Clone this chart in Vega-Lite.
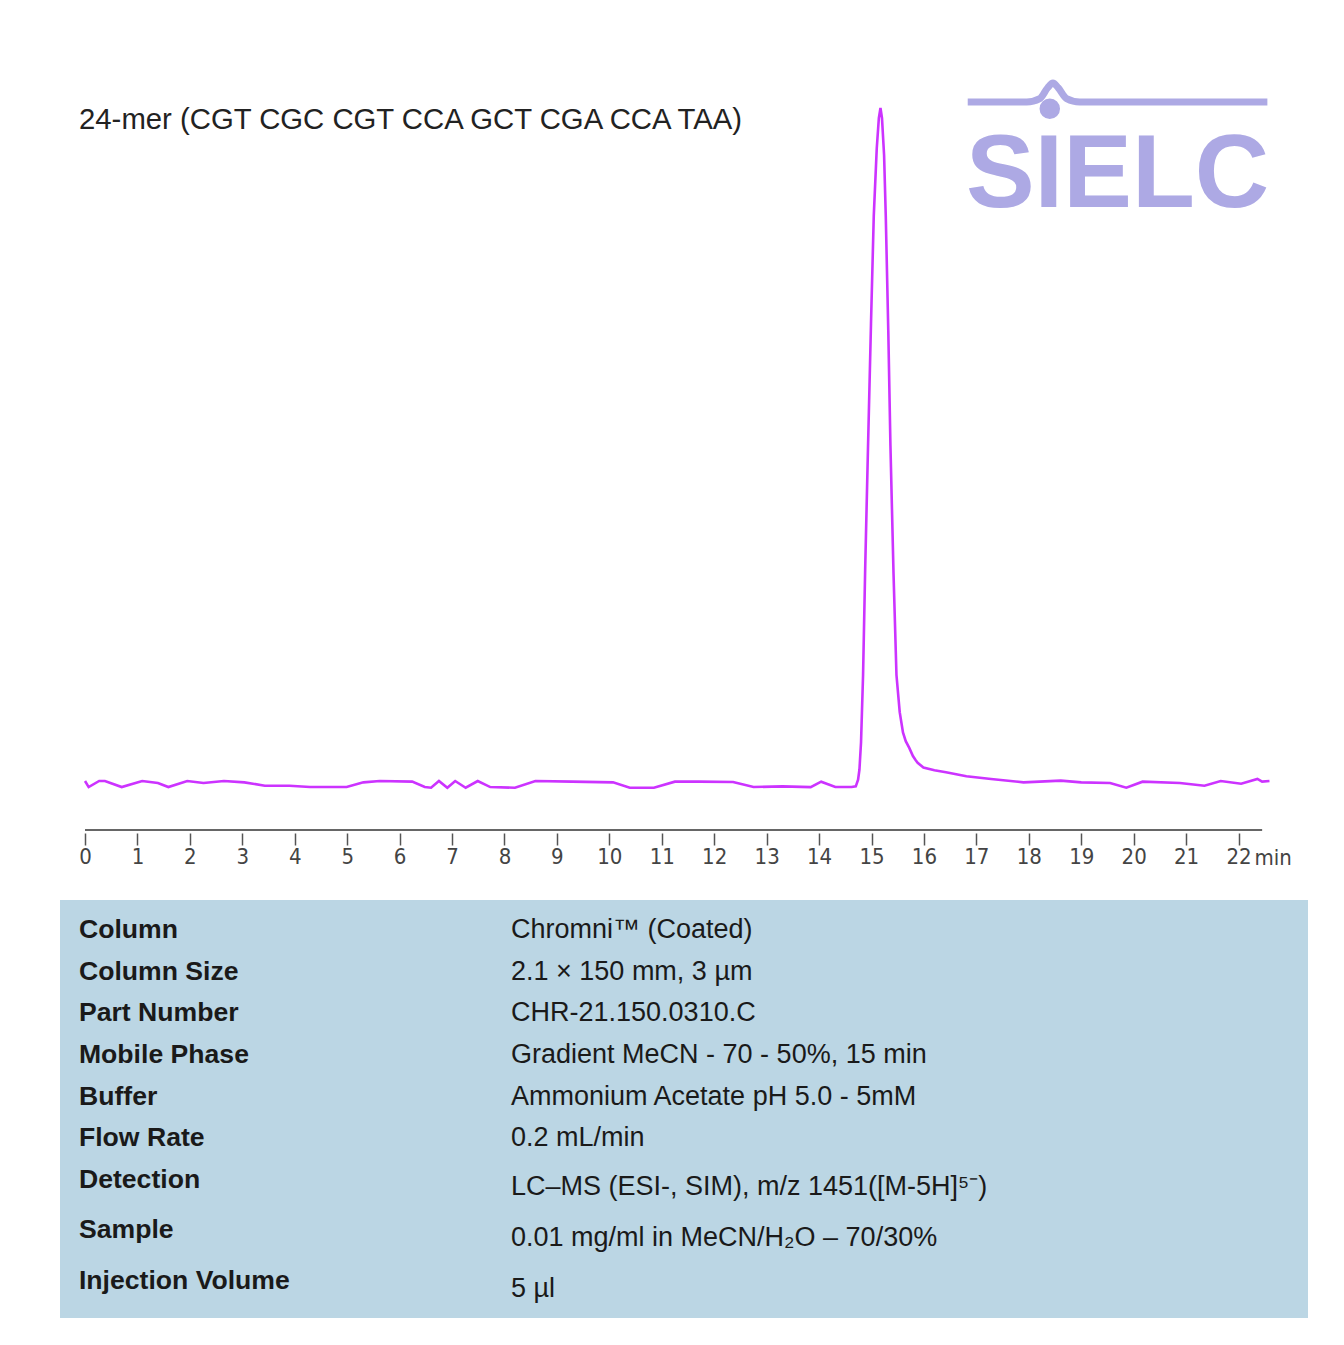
{
  "$schema": "https://vega.github.io/schema/vega-lite/v6.json",
  "background": "white",
  "padding": {"left": 60, "top": 60, "right": 0, "bottom": 0},
  "spacing": 32,
  "config": {"font": "Liberation Sans", "view": {"stroke": null}},
  "datasets": {
    "trace": [
      {"t": 0.00, "v": 0.3}, {"t": 0.07, "v": -0.6}, {"t": 0.27, "v": 0.3}, {"t": 0.38, "v": 0.3},
      {"t": 0.70, "v": -0.6}, {"t": 1.09, "v": 0.3}, {"t": 1.39, "v": 0.0}, {"t": 1.59, "v": -0.6},
      {"t": 1.95, "v": 0.3}, {"t": 2.26, "v": 0.0}, {"t": 2.65, "v": 0.3}, {"t": 3.04, "v": 0.1},
      {"t": 3.43, "v": -0.4}, {"t": 3.90, "v": -0.4}, {"t": 4.29, "v": -0.6}, {"t": 4.99, "v": -0.6},
      {"t": 5.31, "v": 0.1}, {"t": 5.62, "v": 0.3}, {"t": 6.24, "v": 0.2}, {"t": 6.48, "v": -0.6},
      {"t": 6.60, "v": -0.7}, {"t": 6.75, "v": 0.3}, {"t": 6.91, "v": -0.7}, {"t": 7.06, "v": 0.3},
      {"t": 7.26, "v": -0.7}, {"t": 7.49, "v": 0.3}, {"t": 7.73, "v": -0.6}, {"t": 8.20, "v": -0.7},
      {"t": 8.59, "v": 0.3}, {"t": 9.29, "v": 0.2}, {"t": 10.07, "v": 0.1}, {"t": 10.39, "v": -0.7},
      {"t": 10.85, "v": -0.7}, {"t": 11.25, "v": 0.2}, {"t": 11.71, "v": 0.2}, {"t": 12.36, "v": 0.15},
      {"t": 12.75, "v": -0.6}, {"t": 13.30, "v": -0.5}, {"t": 13.84, "v": -0.6}, {"t": 14.04, "v": 0.2},
      {"t": 14.31, "v": -0.6}, {"t": 14.62, "v": -0.6}, {"t": 14.70, "v": -0.5}, {"t": 14.744, "v": 0.5},
      {"t": 14.77, "v": 2}, {"t": 14.80, "v": 6}, {"t": 14.839, "v": 16}, {"t": 14.88, "v": 32},
      {"t": 14.934, "v": 50}, {"t": 14.99, "v": 68}, {"t": 15.043, "v": 84}, {"t": 15.10, "v": 94},
      {"t": 15.14, "v": 98.5}, {"t": 15.171, "v": 100}, {"t": 15.20, "v": 98.5}, {"t": 15.24, "v": 93},
      {"t": 15.272, "v": 84}, {"t": 15.32, "v": 67}, {"t": 15.361, "v": 50}, {"t": 15.42, "v": 31},
      {"t": 15.476, "v": 16}, {"t": 15.538, "v": 10.5}, {"t": 15.60, "v": 7.5}, {"t": 15.653, "v": 6.2},
      {"t": 15.72, "v": 5.2}, {"t": 15.79, "v": 4.0}, {"t": 15.84, "v": 3.4}, {"t": 15.88, "v": 3.0},
      {"t": 15.99, "v": 2.3}, {"t": 16.20, "v": 1.9}, {"t": 16.42, "v": 1.6}, {"t": 16.81, "v": 1.0},
      {"t": 17.28, "v": 0.6}, {"t": 17.90, "v": 0.1}, {"t": 18.61, "v": 0.35}, {"t": 19.00, "v": 0.1},
      {"t": 19.55, "v": 0.0}, {"t": 19.86, "v": -0.7}, {"t": 20.17, "v": 0.2}, {"t": 20.88, "v": 0.0},
      {"t": 21.35, "v": -0.4}, {"t": 21.66, "v": 0.3}, {"t": 22.05, "v": -0.1}, {"t": 22.36, "v": 0.6},
      {"t": 22.45, "v": 0.2}, {"t": 22.59, "v": 0.3}
    ],
    "wave": [
      {"t": 16.835, "v": 100.9}, {"t": 17.96, "v": 100.9}, {"t": 18.21, "v": 101.4},
      {"t": 18.36, "v": 103.0}, {"t": 18.46, "v": 103.7}, {"t": 18.56, "v": 103.0},
      {"t": 18.72, "v": 101.4}, {"t": 18.97, "v": 100.9}, {"t": 22.55, "v": 100.9}
    ],
    "table": [
      {"row": 0, "label": "Column", "value": "Chromni™ (Coated)"},
      {"row": 1, "label": "Column Size", "value": "2.1 × 150 mm, 3 µm"},
      {"row": 2, "label": "Part Number", "value": "CHR-21.150.0310.C"},
      {"row": 3, "label": "Mobile Phase", "value": "Gradient MeCN - 70 - 50%, 15 min"},
      {"row": 4, "label": "Buffer", "value": "Ammonium Acetate pH 5.0  - 5mM"},
      {"row": 5, "label": "Flow Rate", "value": "0.2 mL/min"},
      {"row": 6, "label": "Detection", "value": "LC–MS (ESI-, SIM), m/z 1451([M-5H]⁵⁻)"},
      {"row": 7, "label": "Sample", "value": "0.01 mg/ml in MeCN/H₂O – 70/30%"},
      {"row": 8, "label": "Injection Volume", "value": "5 µl"}
    ]
  },
  "vconcat": [
    {
      "width": 1210,
      "height": 770,
      "resolve": {"axis": {"x": "independent", "y": "independent"}},
      "layer": [
        {
          "data": {"name": "wave"},
          "mark": {"type": "line", "color": "#ADA9E4", "strokeWidth": 7, "interpolate": "monotone"},
          "encoding": {
            "x": {"field": "t", "type": "quantitative", "axis": null},
            "y": {"field": "v", "type": "quantitative", "axis": null}
          }
        },
        {
          "data": {"values": [{"k": 1}]},
          "mark": {"type": "point", "filled": true, "color": "#ADA9E4", "opacity": 1, "size": 420},
          "encoding": {"x": {"datum": 18.40, "axis": null}, "y": {"datum": 99.9, "axis": null}}
        },
        {
          "data": {"values": [{"k": 1}]},
          "mark": {"type": "text", "text": "SIELC", "font": "Liberation Sans", "fontWeight": "bold", "fontSize": 103, "color": "#ADA9E4", "align": "left", "baseline": "alphabetic"},
          "encoding": {"x": {"datum": 16.80, "axis": null}, "y": {"datum": 85.3, "axis": null}}
        },
        {
          "data": {"values": [{"k": 1}]},
          "mark": {"type": "text", "text": "24-mer (CGT CGC CGT CCA GCT CGA CCA TAA)", "fontSize": 29.3, "align": "left", "baseline": "middle", "color": "#222222"},
          "encoding": {"x": {"datum": -0.114, "axis": null}, "y": {"datum": 98.2, "axis": null}}
        },
        {
          "data": {"values": [{"k": 1}]},
          "mark": {"type": "rule", "color": "#666666", "strokeWidth": 2},
          "encoding": {"x": {"datum": 0, "axis": null}, "x2": {"datum": 22.45}, "y": {"datum": -6.96, "axis": null}}
        },
        {
          "data": {"name": "trace"},
          "mark": {"type": "line", "color": "#CC33FF", "strokeWidth": 2.6},
          "encoding": {
            "x": {
              "field": "t", "type": "quantitative",
              "scale": {"domain": [-0.477, 22.6], "nice": false, "zero": false},
              "axis": {
                "values": [0,1,2,3,4,5,6,7,8,9,10,11,12,13,14,15,16,17,18,19,20,21,22],
                "domain": false, "grid": false, "offset": 3,
                "tickSize": 12, "tickColor": "#555555", "tickWidth": 1.5,
                "labelFont": "DejaVu Sans Condensed, Liberation Sans, sans-serif", "labelFontSize": 22, "labelColor": "#444444", "labelPadding": 1,
                "title": "min", "titleX": 1194, "titleY": 24, "titleAlign": "left", "titleBaseline": "middle", "titleAngle": 0,
                "titleFont": "DejaVu Sans Condensed, Liberation Sans, sans-serif", "titleFontSize": 22, "titleFontWeight": "normal", "titleColor": "#444444"
              }
            },
            "y": {
              "field": "v", "type": "quantitative",
              "scale": {"domain": [-6.96, 107.11], "nice": false, "zero": false},
              "axis": null
            }
          }
        }
      ]
    },
    {
      "width": 1248,
      "height": 418,
      "layer": [
        {
          "data": {"values": [{"k": 1}]},
          "mark": {"type": "rect", "color": "#BBD6E4"},
          "encoding": {
            "x": {"datum": 0, "type": "quantitative", "scale": {"domain": [0, 100], "nice": false, "zero": false}, "axis": null},
            "x2": {"datum": 100},
            "y": {"datum": -0.719, "type": "quantitative", "scale": {"domain": [-0.719, 9.305], "reverse": true, "nice": false, "zero": false}, "axis": null},
            "y2": {"datum": 9.305}
          }
        },
        {
          "data": {"name": "table"},
          "transform": [{"filter": "datum.row <= 6"}],
          "mark": {"type": "text", "align": "left", "baseline": "middle", "fontSize": 26.6, "fontWeight": "bold", "color": "#1a1a1a"},
          "encoding": {"x": {"datum": 1.52, "type": "quantitative", "axis": null}, "y": {"field": "row", "type": "quantitative", "axis": null}, "text": {"field": "label"}}
        },
        {
          "data": {"name": "table"},
          "transform": [{"filter": "datum.row == 7"}],
          "mark": {"type": "text", "align": "left", "baseline": "middle", "fontSize": 26.6, "fontWeight": "bold", "color": "#1a1a1a", "dy": 8},
          "encoding": {"x": {"datum": 1.52, "type": "quantitative", "axis": null}, "y": {"field": "row", "type": "quantitative", "axis": null}, "text": {"field": "label"}}
        },
        {
          "data": {"name": "table"},
          "transform": [{"filter": "datum.row == 8"}],
          "mark": {"type": "text", "align": "left", "baseline": "middle", "fontSize": 26.6, "fontWeight": "bold", "color": "#1a1a1a", "dy": 17},
          "encoding": {"x": {"datum": 1.52, "type": "quantitative", "axis": null}, "y": {"field": "row", "type": "quantitative", "axis": null}, "text": {"field": "label"}}
        },
        {
          "data": {"name": "table"},
          "transform": [{"filter": "datum.row <= 5"}],
          "mark": {"type": "text", "align": "left", "baseline": "middle", "fontSize": 27, "color": "#1a1a1a"},
          "encoding": {"x": {"datum": 36.14, "type": "quantitative", "axis": null}, "y": {"field": "row", "type": "quantitative", "axis": null}, "text": {"field": "value"}}
        },
        {
          "data": {"name": "table"},
          "transform": [{"filter": "datum.row == 6"}],
          "mark": {"type": "text", "align": "left", "baseline": "middle", "fontSize": 27, "color": "#1a1a1a", "dy": 7},
          "encoding": {"x": {"datum": 36.14, "type": "quantitative", "axis": null}, "y": {"field": "row", "type": "quantitative", "axis": null}, "text": {"field": "value"}}
        },
        {
          "data": {"name": "table"},
          "transform": [{"filter": "datum.row == 7"}],
          "mark": {"type": "text", "align": "left", "baseline": "middle", "fontSize": 27, "color": "#1a1a1a", "dy": 16},
          "encoding": {"x": {"datum": 36.14, "type": "quantitative", "axis": null}, "y": {"field": "row", "type": "quantitative", "axis": null}, "text": {"field": "value"}}
        },
        {
          "data": {"name": "table"},
          "transform": [{"filter": "datum.row == 8"}],
          "mark": {"type": "text", "align": "left", "baseline": "middle", "fontSize": 27, "color": "#1a1a1a", "dy": 25},
          "encoding": {"x": {"datum": 36.14, "type": "quantitative", "axis": null}, "y": {"field": "row", "type": "quantitative", "axis": null}, "text": {"field": "value"}}
        }
      ]
    }
  ]
}
